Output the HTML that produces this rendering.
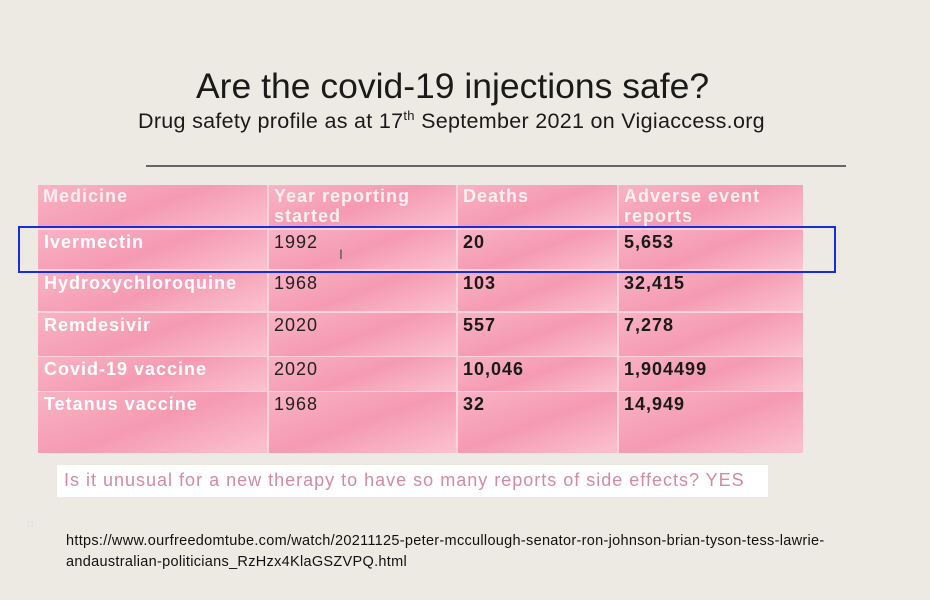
<!DOCTYPE html>
<html><head><style>
body{margin:0;width:930px;height:600px;background:#edeae4;position:relative;overflow:hidden;font-family:"Liberation Sans",sans-serif}
.a{position:absolute;white-space:nowrap}
.c{position:absolute;background:linear-gradient(160deg,#f9b3c4,#f59ab2 50%,#fbc2cf);box-sizing:border-box;letter-spacing:1px}
.h{color:#fff0f3;font-weight:bold;font-size:18px;line-height:20px;padding:1px 5px}
.w{color:#fff;font-weight:bold;font-size:18px;padding:2px 6px}
.d{color:#222;font-size:18px;padding:2px 5px}
.b{color:#1a1a1a;font-weight:bold;font-size:18px;padding:2px 5px}
</style></head><body>
<div class="a" style="left:196px;top:66px;font-size:35.5px;color:#1a1a1a">Are the covid-19 injections safe?</div>
<div class="a" style="left:138px;top:108px;font-size:21.5px;color:#1a1a1a;letter-spacing:0.3px">Drug safety profile as at 17<sup style="font-size:13px">th</sup> September 2021 on Vigiaccess.org</div>
<div class="a" style="left:146px;top:165px;width:700px;height:2px;background:#666"></div>

<div class="a" style="left:38px;top:185px;width:765px;height:268px;background:#fbd3dc"></div>
<div class="c h" style="left:38px;top:185px;width:229px;height:43px">Medicine</div>
<div class="c h" style="left:269px;top:185px;width:187px;height:43px">Year reporting<br>started</div>
<div class="c h" style="left:458px;top:185px;width:159px;height:43px">Deaths</div>
<div class="c h" style="left:619px;top:185px;width:184px;height:43px">Adverse event<br>reports</div>

<div class="c w" style="left:38px;top:230px;width:229px;height:39px">Ivermectin</div>
<div class="c d" style="left:269px;top:230px;width:187px;height:39px">1992<span style="position:absolute;left:70px;top:16px;font-size:14px;color:#555">I</span></div>
<div class="c b" style="left:458px;top:230px;width:159px;height:39px">20</div>
<div class="c b" style="left:619px;top:230px;width:184px;height:39px">5,653</div>

<div class="c w" style="left:38px;top:271px;width:229px;height:40px">Hydroxychloroquine</div>
<div class="c d" style="left:269px;top:271px;width:187px;height:40px">1968</div>
<div class="c b" style="left:458px;top:271px;width:159px;height:40px">103</div>
<div class="c b" style="left:619px;top:271px;width:184px;height:40px">32,415</div>

<div class="c w" style="left:38px;top:313px;width:229px;height:43px">Remdesivir</div>
<div class="c d" style="left:269px;top:313px;width:187px;height:43px">2020</div>
<div class="c b" style="left:458px;top:313px;width:159px;height:43px">557</div>
<div class="c b" style="left:619px;top:313px;width:184px;height:43px">7,278</div>

<div class="c w" style="left:38px;top:357px;width:229px;height:34px">Covid-19 vaccine</div>
<div class="c d" style="left:269px;top:357px;width:187px;height:34px">2020</div>
<div class="c b" style="left:458px;top:357px;width:159px;height:34px">10,046</div>
<div class="c b" style="left:619px;top:357px;width:184px;height:34px">1,904499</div>

<div class="c w" style="left:38px;top:392px;width:229px;height:61px">Tetanus vaccine</div>
<div class="c d" style="left:269px;top:392px;width:187px;height:61px">1968</div>
<div class="c b" style="left:458px;top:392px;width:159px;height:61px">32</div>
<div class="c b" style="left:619px;top:392px;width:184px;height:61px">14,949</div>

<div class="a" style="left:18px;top:226px;width:814px;height:43px;border:2px solid #1a2be0"></div>

<div class="a" style="left:57px;top:465px;width:711px;height:32px;background:#fff"></div>
<div class="a" style="left:64px;top:470px;font-size:18px;color:#d48aa0;letter-spacing:1px">Is it unusual for a new therapy to have so many reports of side effects? YES</div>

<div class="a" style="left:26px;top:520px;font-size:8px;color:#ddd">11</div>
<div class="a" style="left:66px;top:531px;font-size:14.5px;color:#111;line-height:21px;letter-spacing:0.3px">https://www.ourfreedomtube.com/watch/20211125-peter-mccullough-senator-ron-johnson-brian-tyson-tess-lawrie-<br>andaustralian-politicians_RzHzx4KlaGSZVPQ.html</div>
</body></html>
